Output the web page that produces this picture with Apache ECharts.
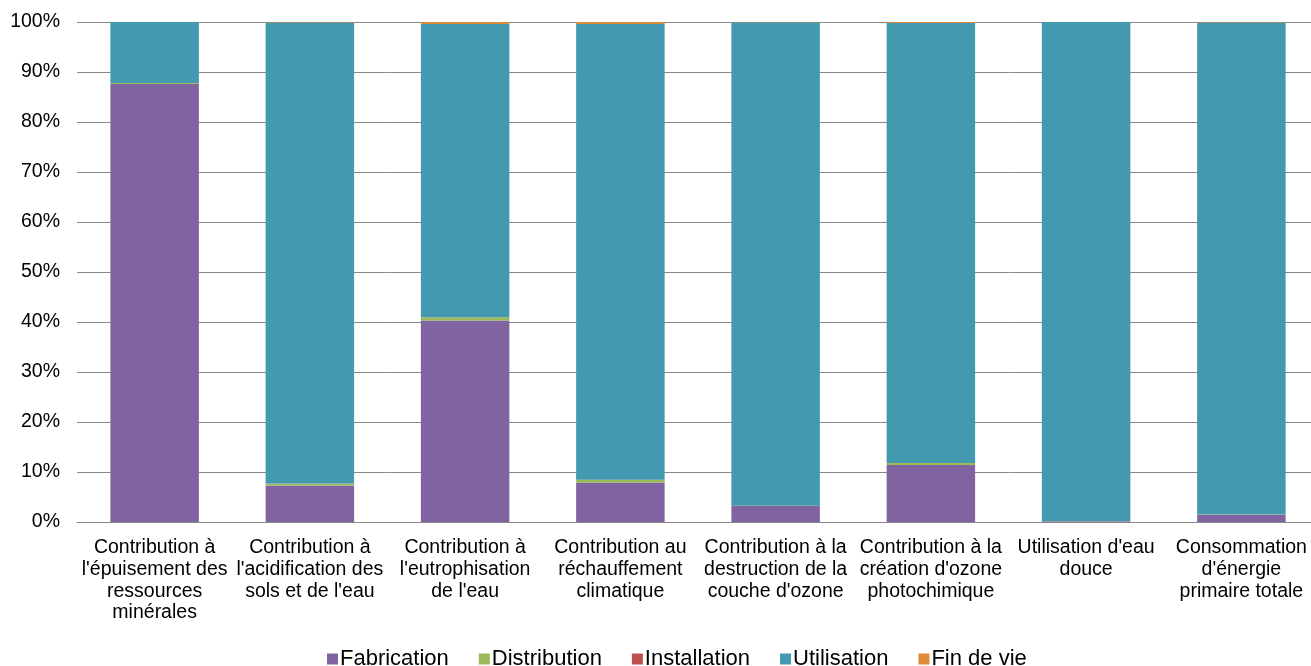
<!DOCTYPE html>
<html><head><meta charset="utf-8">
<script src="https://cdn.jsdelivr.net/npm/echarts@6/dist/echarts.min.js"></script>
<style>html,body{margin:0;padding:0;background:#fff;overflow:hidden;width:1311px;height:666px}#c{width:1319px;height:666px}</style>
</head><body><div id="c"></div>
<script>
var categories = [
  "Contribution à\nl'épuisement des\nressources\nminérales",
  "Contribution à\nl'acidification des\nsols et de l'eau",
  "Contribution à\nl'eutrophisation\nde l'eau",
  "Contribution au\nréchauffement\nclimatique",
  "Contribution à la\ndestruction de la\ncouche d'ozone",
  "Contribution à la\ncréation d'ozone\nphotochimique",
  "Utilisation d'eau\ndouce",
  "Consommation\nd'énergie\nprimaire totale"
];
var fabrication  = [87.6, 7.3, 40.3, 7.9, 3.2, 11.4, 0.1, 1.5];
var distribution = [0.2, 0.4, 0.6, 0.5, 0.05, 0.4, 0.02, 0.05];
var installation = [0.02, 0.02, 0.05, 0.05, 0.02, 0.02, 0.01, 0.02];
var finDeVie     = [0.0, 0.1, 0.4, 0.4, 0.05, 0.2, 0.01, 0.1];
var utilisation  = [12.18, 92.18, 58.65, 91.15, 96.68, 87.98, 99.86, 98.33];
var yTicks = [0,10,20,30,40,50,60,70,80,90,100];

var names = ["Fabrication","Distribution","Installation","Utilisation","Fin de vie"];
var colors = ["#8064A2","#9BBB59","#C0504D","#4299B0","#E08A3C"];
var datas = [fabrication, distribution, installation, utilisation, finDeVie];

var chart = echarts.init(document.getElementById('c'), null, {renderer:'canvas'});
chart.setOption({
  animation:false,
  color: colors,
  textStyle:{fontFamily:'Liberation Sans, Arial, sans-serif'},
  grid:{left:77, right:0, top:22, bottom:144, containLabel:false},
  legend:{
    top:643, left:322, itemWidth:11, itemHeight:11, itemGap:30,
    icon:'rect',
    textStyle:{fontSize:22, color:'#000', padding:[0,0,0,-3]},
    data:names
  },
  xAxis:{
    type:'category', data:categories,
    axisLine:{lineStyle:{color:'#888', width:1}},
    axisTick:{show:false},
    axisLabel:{interval:0, color:'#000', fontSize:19.5, lineHeight:21.7, margin:15}
  },
  yAxis:{
    type:'value', min:0, max:100, interval:10,
    axisLine:{show:false}, axisTick:{show:false},
    splitLine:{lineStyle:{color:'#888', width:1}},
    axisLabel:{color:'#000', fontSize:19.5, margin:17, formatter:function(v){return yTicks.indexOf(v)>=0 ? v+'%' : '';}}
  },
  series: names.map(function(n,i){
    return {name:n, type:'bar', stack:'s', data:datas[i], barCategoryGap:'43%',
      itemStyle:{color:colors[i]}};
  })
});
</script></body></html>
